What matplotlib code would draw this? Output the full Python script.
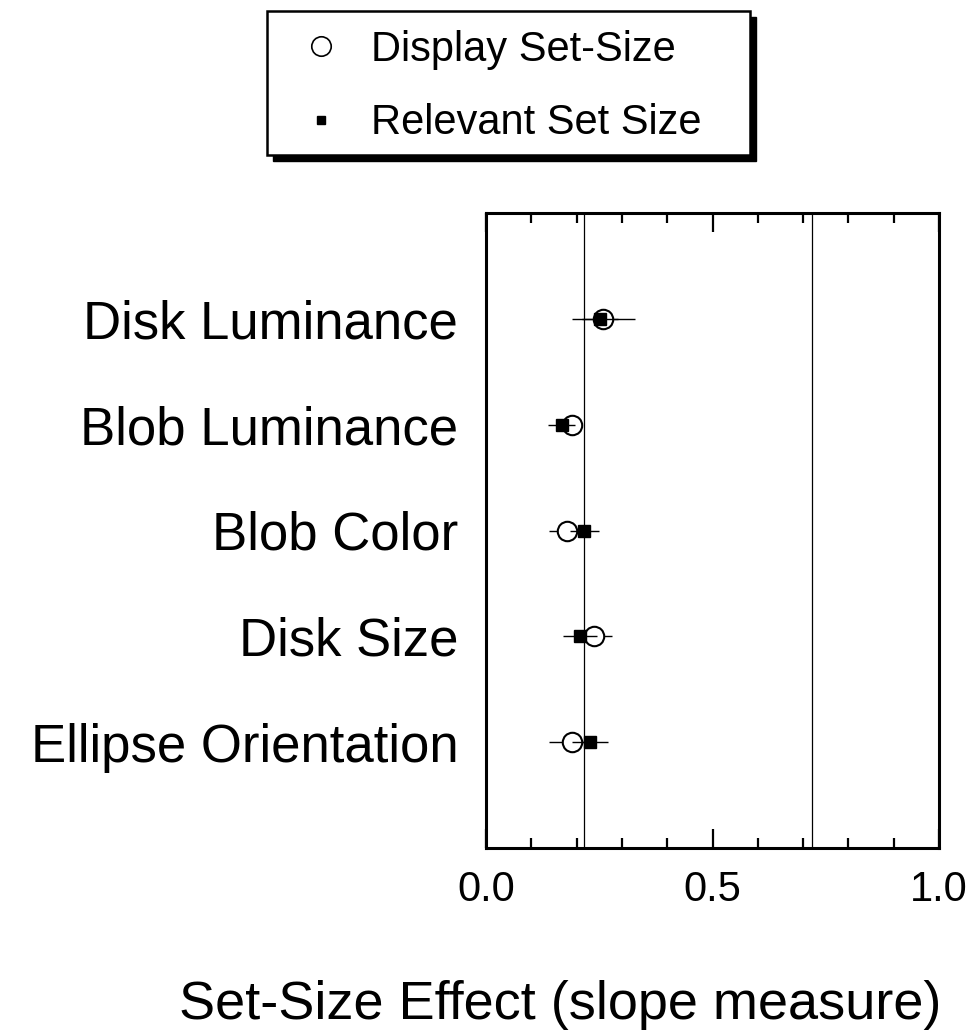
import matplotlib
matplotlib.use('Agg')
import matplotlib.pyplot as plt
from matplotlib.patches import Rectangle
from matplotlib.lines import Line2D
from matplotlib.ticker import MultipleLocator
import numpy as np

plt.rcParams['font.family'] = ['Liberation Sans', 'DejaVu Sans']

# conditions, top to bottom
conditions = ['Disk Luminance', 'Blob Luminance', 'Blob Color',
              'Disk Size', 'Ellipse Orientation']
# slope measure
display_slope = [0.259, 0.190, 0.179, 0.239, 0.189]
display_err = [0.070, 0.020, 0.041, 0.040, 0.050]
relevant_slope = [0.252, 0.167, 0.217, 0.207, 0.229]
relevant_err = [0.040, 0.030, 0.032, 0.038, 0.040]
ref_lines = [0.217, 0.72]
xticks = [0.0, 0.5, 1.0]
xtick_labels = ['0.0', '0.5', '1.0']

W, H = 975, 1034
fig = plt.figure(figsize=(W / 100, H / 100), dpi=100)
ax = fig.add_axes([486 / W, 1 - 848 / H, (939 - 486) / W, (848 - 213) / H])

ypos = np.arange(1, len(conditions) + 1)

for x in ref_lines:
    ax.axvline(x, color='black', lw=0.9, zorder=1)

ax.errorbar(display_slope, ypos, xerr=display_err, fmt='o', ms=14,
            mfc='white', mec='black', mew=1.5, ecolor='black', elinewidth=1.0,
            capsize=0, zorder=3)
ax.errorbar(relevant_slope, ypos, xerr=relevant_err, fmt='s', ms=8,
            mfc='black', mec='black', ecolor='black', elinewidth=1.0,
            capsize=0, zorder=4)

ax.set_xlim(0, 1)
ax.set_ylim(len(conditions) + 1, 0)
ax.set_xticks(xticks)
ax.set_xticklabels(xtick_labels)
ax.xaxis.set_minor_locator(MultipleLocator(0.1))
ax.tick_params(axis='x', which='both', direction='in', top=True, bottom=True,
               width=1.6, labelsize=30, pad=16)
ax.tick_params(axis='x', which='major', length=14)
ax.tick_params(axis='x', which='minor', length=7.5)
ax.set_yticks(ypos)
ax.set_yticklabels(conditions)
ax.tick_params(axis='y', length=0, labelsize=38, pad=20)
for s in ax.spines.values():
    s.set_linewidth(2.2)

fig.text(560 / W, 1 - 1019 / H, 'Set-Size Effect (slope measure)',
         fontsize=39, ha='center', va='baseline')

# legend box with heavy drop shadow
bx0, by0, bx1, by1 = 267, 11, 750, 155
fig.patches.append(Rectangle(((bx0 + 6) / W, 1 - (by1 + 6) / H),
                             (bx1 - bx0) / W, (by1 - by0) / H,
                             transform=fig.transFigure, facecolor='black',
                             edgecolor='black', zorder=1))
fig.patches.append(Rectangle((bx0 / W, 1 - by1 / H),
                             (bx1 - bx0) / W, (by1 - by0) / H,
                             transform=fig.transFigure, facecolor='white',
                             edgecolor='black', lw=1.8, zorder=2))

handles = [Line2D([], [], ls='none', marker='o', ms=14, mfc='white',
                  mec='black', mew=1.2),
           Line2D([], [], ls='none', marker='s', ms=6, mfc='black',
                  mec='black')]
leg = fig.legend(handles, ['Display Set-Size', 'Relevant Set Size'],
                 loc='upper left', bbox_to_anchor=(300 / W, 1 - 30 / H),
                 frameon=False, fontsize=30, handlelength=1.0,
                 handletextpad=0.7, labelspacing=0.8, borderpad=0,
                 borderaxespad=0)
leg.set_zorder(3)

fig.savefig('out.png', dpi=100)
